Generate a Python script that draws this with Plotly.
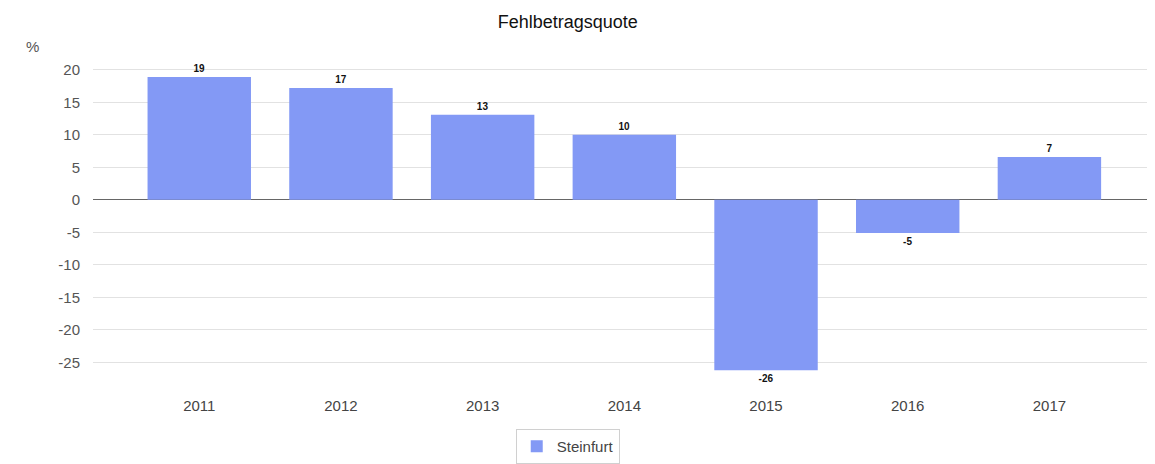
import plotly.graph_objects as go

years = ["2011", "2012", "2013", "2014", "2015", "2016", "2017"]
values = [18.9, 17.2, 13.1, 10.0, -26.2, -5.1, 6.6]
series_name = "Steinfurt"
y_ticks = [20, 15, 10, 5, 0, -5, -10, -15, -20, -25]

labels = [str(round(v)) for v in values]
y_ticktext = [str(t) for t in y_ticks]

fig = go.Figure()
fig.add_trace(go.Bar(
    x=list(range(len(years))), y=values, name=series_name,
    marker=dict(color="#8399f5", line=dict(width=0)),
    width=0.73,
    text=labels, texttemplate="<b>%{text}</b>", textposition="outside",
    textfont=dict(family="Liberation Sans, Arial", size=10, color="#111"),
    cliponaxis=False, showlegend=True,
))

fig.update_layout(
    width=1147, height=456,
    margin=dict(l=85, r=5, t=52, b=69),
    paper_bgcolor="white", plot_bgcolor="white",
    font=dict(family="Liberation Sans, Arial", color="#444"),
    title=dict(text="Fehlbetragsquote", x=0.488, xanchor="center", y=0.969, yanchor="middle",
               font=dict(size=18, color="#111")),
    xaxis=dict(tickmode="array", tickvals=list(range(len(years))), ticktext=years,
               range=[-0.75, 6.71], showgrid=False, zeroline=False, showline=False,
               tickfont=dict(size=15, color="#444"), ticks="", automargin=False),
    yaxis=dict(range=[-30, 21.5], tickmode="array", tickvals=y_ticks, ticktext=y_ticktext,
               showgrid=True, gridcolor="#e2e2e2",
               zeroline=True, zerolinecolor="#666", zerolinewidth=1,
               tickfont=dict(size=15, color="#555"), ticks="", ticklabelstandoff=12,
               automargin=False),
    showlegend=True,
    legend=dict(orientation="h", xref="container", yref="container", x=0.488, xanchor="center",
                y=-0.008, yanchor="bottom", bordercolor="#d0d0d0", borderwidth=1,
                font=dict(size=15, color="#444"), itemwidth=30),
    bargap=0.27,
)
fig.add_annotation(text="%", xref="paper", yref="paper", x=-0.065, y=1.039, showarrow=False,
                   xanchor="left", yanchor="middle", font=dict(size=15, color="#555"))

fig.write_html("out.html")
